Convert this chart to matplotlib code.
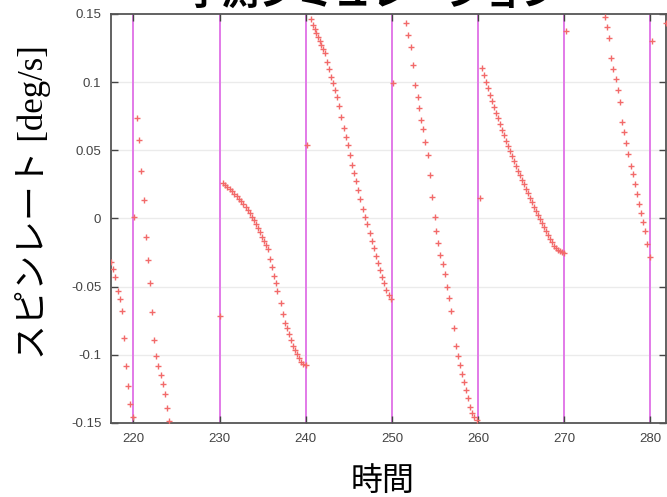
import matplotlib
matplotlib.use('Agg')
import matplotlib.pyplot as plt

# spin rate samples, one list pair per sweep
time_a = [217.39, 217.66, 217.89, 218.17, 218.44, 218.67, 218.90, 219.17, 219.40, 219.63, 219.91]
rate_a = [-0.032, -0.037, -0.043, -0.053, -0.059, -0.068, -0.088, -0.108, -0.123, -0.136, -0.146]

time_b = [220.44, 220.67, 220.90, 221.18, 221.45, 221.68, 221.91, 222.18, 222.41, 222.64, 222.87,
          223.15, 223.38, 223.65, 223.88, 224.15]
rate_b = [0.0735, 0.0573, 0.0348, 0.0133, -0.0136, -0.0305, -0.0476, -0.0688, -0.0892, -0.101, -0.1085,
          -0.115, -0.1215, -0.129, -0.139, -0.1488]

time_c = [230.34, 230.60, 230.87, 231.15, 231.41, 231.68, 231.96, 232.22, 232.49, 232.77, 233.04,
          233.27, 233.50, 233.73, 233.96, 234.19, 234.43, 234.66, 234.89, 235.12, 235.39, 235.62,
          235.85, 236.05, 236.28, 236.51, 236.71, 237.09, 237.32, 237.59, 237.82, 238.05, 238.29,
          238.52, 238.75, 238.98, 239.21, 239.44, 239.68, 239.99]
rate_c = [0.0263, 0.0248, 0.0233, 0.0216, 0.0199, 0.0182, 0.0165, 0.0145, 0.0126, 0.0106, 0.0084,
          0.0062, 0.0038, 0.0013, -0.0011, -0.0040, -0.0070, -0.0101, -0.0133, -0.0163, -0.0192, -0.0224,
          -0.0299, -0.0358, -0.0422, -0.0476, -0.0530, -0.0622, -0.0701, -0.0764, -0.0806, -0.0850, -0.0891,
          -0.0933, -0.0965, -0.0996, -0.1025, -0.1050, -0.1067, -0.1077]

time_d = [240.65, 240.84, 241.03, 241.23, 241.41, 241.61, 241.80, 241.99, 242.19, 242.42, 242.65,
          242.89, 243.12, 243.35, 243.62, 243.89, 244.12, 244.39, 244.62, 244.85, 245.09, 245.32,
          245.55, 245.78, 246.01, 246.25, 246.63, 246.86, 247.09, 247.40, 247.64, 247.87, 248.10,
          248.33, 248.56, 248.80, 249.03, 249.33, 249.62, 249.94]
rate_d = [0.1463, 0.1420, 0.1388, 0.1359, 0.1329, 0.1302, 0.1273, 0.1241, 0.1212, 0.1150, 0.1095,
          0.1040, 0.0992, 0.0943, 0.0894, 0.0825, 0.0747, 0.0664, 0.0600, 0.0537, 0.0464, 0.0393,
          0.0332, 0.0275, 0.0209, 0.0141, 0.0067, 0.0013, -0.0040, -0.0109, -0.0163, -0.0219, -0.0275,
          -0.0329, -0.0378, -0.0427, -0.0476, -0.0525, -0.0560, -0.0590]

time_e = [251.66, 251.92, 252.19, 252.42, 252.70, 252.97, 253.16, 253.40, 253.63, 253.89, 254.16,
          254.44, 254.67, 254.94, 255.17, 255.40, 255.63, 255.90, 256.18, 256.41, 256.67, 256.91,
          257.17, 257.40, 257.64, 257.87, 258.10, 258.33, 258.56, 258.80, 259.03, 259.34, 259.57, 259.84]
rate_e = [0.1432, 0.1346, 0.1260, 0.1124, 0.0977, 0.0889, 0.0808, 0.0720, 0.0654, 0.0564, 0.0466,
          0.0319, 0.0160, 0.0013, -0.0092, -0.0182, -0.0268, -0.0336, -0.0407, -0.0500, -0.0581, -0.0679,
          -0.0803, -0.0935, -0.1009, -0.1077, -0.1141, -0.1202, -0.1258, -0.1319, -0.1381, -0.1429, -0.1459, -0.1478]

time_f = [260.50, 260.73, 260.92, 261.15, 261.39, 261.62, 261.85, 262.08, 262.31, 262.55, 262.78,
          263.01, 263.24, 263.47, 263.70, 263.94, 264.17, 264.40, 264.63, 264.86, 265.09, 265.33,
          265.56, 265.79, 266.02, 266.25, 266.48, 266.72, 266.95, 267.18, 267.41, 267.64, 267.88,
          268.11, 268.34, 268.57, 268.80, 269.03, 269.27, 269.50, 269.73, 269.92]
rate_f = [0.1102, 0.1053, 0.1004, 0.0955, 0.0906, 0.0865, 0.0821, 0.0777, 0.0735, 0.0693, 0.0649,
          0.0613, 0.0571, 0.0532, 0.0495, 0.0459, 0.0422, 0.0388, 0.0351, 0.0317, 0.0282, 0.0251,
          0.0216, 0.0185, 0.0153, 0.0121, 0.0087, 0.0058, 0.0026, -0.0004, -0.0035, -0.0065, -0.0094,
          -0.0121, -0.0148, -0.0175, -0.0199, -0.0219, -0.0231, -0.0241, -0.0248, -0.0251]

time_g = [274.67, 274.94, 275.21, 275.45, 275.68, 275.95, 276.18, 276.45, 276.68, 276.95, 277.18,
          277.45, 277.69, 277.92, 278.19, 278.42, 278.69, 278.92, 279.15, 279.39, 279.66, 279.93]
rate_g = [0.1476, 0.1402, 0.1322, 0.1175, 0.1099, 0.1021, 0.0943, 0.0855, 0.0708, 0.0637, 0.0551,
          0.0471, 0.0388, 0.0326, 0.0253, 0.0180, 0.0106, 0.0038, -0.0023, -0.0089, -0.0190, -0.0280]

# single samples right after each switch
time_jump = [220.10, 230.10, 240.14, 250.10, 260.23, 270.19, 280.24, 281.78]
rate_jump = [0.001, -0.0716, 0.0537, 0.0996, 0.0150, 0.1376, 0.1302, 0.1432]

switch_times = [220, 230, 240, 250, 260, 270, 280]
y_ticks = [-0.15, -0.1, -0.05, 0, 0.05, 0.1, 0.15]
y_tick_labels = ['-0.15', '-0.1', '-0.05', '0', '0.05', '0.1', '0.15']
x_ticks = [220, 230, 240, 250, 260, 270, 280]

plt.rcParams['font.family'] = ['Liberation Sans', 'DejaVu Sans']

fig = plt.figure(figsize=(6.67, 4.97), dpi=100)
ax = fig.add_axes([0.1664, 0.149, 0.832, 0.8229])

for y in y_ticks[1:-1]:
    ax.axhline(y, color='#ebebeb', lw=1.0, zorder=0)
for t in switch_times:
    ax.axvline(t, color='#e27ae8', lw=1.4, zorder=1)

times = time_a + time_b + time_c + time_d + time_e + time_f + time_g + time_jump
rates = rate_a + rate_b + rate_c + rate_d + rate_e + rate_f + rate_g + rate_jump
ax.plot(times, rates, linestyle='none', marker='+', ms=5, mew=1.0, color='#f26a6a', zorder=3)

ax.set_xlim(217.39, 281.8)
ax.set_ylim(-0.15, 0.15)
ax.set_xticks(x_ticks)
ax.set_yticks(y_ticks)
ax.set_yticklabels(y_tick_labels)
ax.tick_params(direction='in', length=5, width=1, colors='#444444', labelsize=9.5,
               top=True, right=True, pad=7)
for sp in ax.spines.values():
    sp.set_color('#555555')
    sp.set_linewidth(1.3)

ax.set_ylabel('スピンレート [deg/s]', fontsize=25,
              family=['Liberation Serif', 'Noto Sans CJK JP'])
ax.yaxis.set_label_coords(-0.108, 0.54)
ax.set_xlabel('時間', fontsize=23, family=['Noto Sans CJK JP'])
ax.xaxis.set_label_coords(0.49, -0.102)
fig.text(0.558, 0.975, '予測シミュレーション', fontsize=27, fontweight='bold',
         family=['Noto Sans CJK JP'], ha='center', va='bottom')

fig.savefig('out.png', dpi=100)
